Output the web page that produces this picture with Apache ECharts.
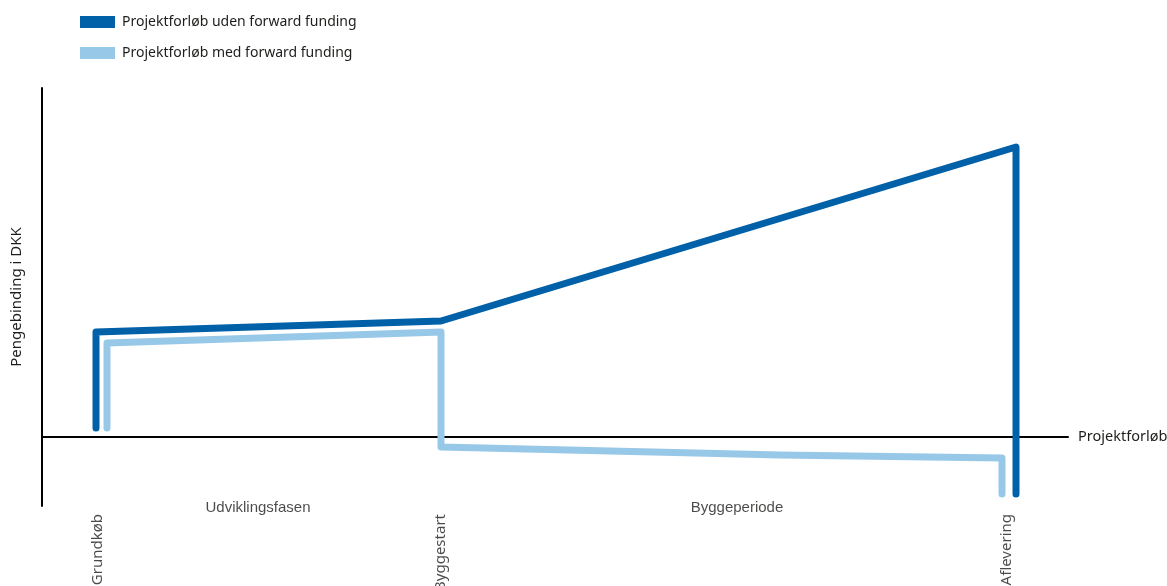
<!DOCTYPE html>
<html>
<head>
<meta charset="utf-8">
<script src="https://cdn.jsdelivr.net/npm/echarts@6/dist/echarts.min.js"></script>
<style>html,body{margin:0;padding:0;background:#fff}#c{width:1167px;height:586px}</style>
</head>
<body>
<div id="c"></div>
<script>
// Conceptual chart: x = project progress, y = capital tied up (arbitrary units, 0 = axis)
const seriesNames = ['Projektforløb uden forward funding', 'Projektforløb med forward funding'];
const udenX = [54, 54, 399, 974, 974];
const udenY = [9, 105, 116, 290, -57];
const medX = [65, 65, 399, 399, 738, 960, 960];
const medY = [9, 94, 105, -10, -18, -21, -57];
const milestones = ['Grundkøb', 'Byggestart', 'Aflevering'];
const milestoneX = [56, 399, 965];
const phases = ['Udviklingsfasen', 'Byggeperiode'];
const phaseX = [216, 695];
const xName = 'Projektforløb';
const yName = 'Pengebinding i DKK';

const FONT = 'Noto Sans';
const FONT2 = 'Liberation Sans';
const TXT = '#1d1d1b';
const DARK = '#0061a8';
const LIGHT = '#98c8e8';

const zip = (xs, ys) => xs.map((x, i) => [x, ys[i]]);

const chart = echarts.init(document.getElementById('c'), null, {renderer: 'canvas'});
chart.setOption({
  animation: false,
  textStyle: {fontFamily: FONT, color: TXT},
  grid: {left: 42, right: 99, top: 88, bottom: 80, outerBoundsMode: 'none', containLabel: false},
  legend: {
    orient: 'vertical', left: 80, top: 15, padding: 0, itemWidth: 35, itemHeight: 12, itemGap: 17,
    icon: 'rect',
    textStyle: {fontFamily: FONT, fontSize: 14, color: TXT, padding: [0, 0, 0, 2]},
    data: seriesNames
  },
  xAxis: {
    type: 'value', min: 0, max: 1026,
    axisLine: {show: true, onZero: true, lineStyle: {color: '#000', width: 2}},
    axisTick: {show: false}, axisLabel: {show: false}, splitLine: {show: false},
    name: xName, nameLocation: 'end', nameGap: 10,
    nameTextStyle: {fontFamily: FONT, fontSize: 14.5, color: TXT}
  },
  yAxis: {
    type: 'value', min: -69, max: 349,
    axisLine: {show: true, onZero: false, lineStyle: {color: '#000', width: 2}},
    axisTick: {show: false}, axisLabel: {show: false}, splitLine: {show: false},
    name: yName, nameLocation: 'middle', nameGap: 18, nameRotate: 90,
    nameTextStyle: {fontFamily: FONT, fontSize: 15, color: TXT}
  },
  series: [
    {
      name: seriesNames[0], type: 'line', data: zip(udenX, udenY), symbol: 'none',
      color: DARK, z: 3,
      lineStyle: {color: DARK, width: 7, cap: 'round', join: 'round'}
    },
    {
      name: seriesNames[1], type: 'line', data: zip(medX, medY), symbol: 'none',
      color: LIGHT, z: 2,
      lineStyle: {color: LIGHT, width: 7, cap: 'round', join: 'round'}
    },
    {
      type: 'scatter', symbolSize: 0, clip: false, silent: true,
      data: milestones.map((m, i) => ({value: [milestoneX[i], -77], name: m})),
      label: {
        show: true, position: 'inside', rotate: 90, align: 'right', verticalAlign: 'middle',
        formatter: p => p.name, fontFamily: FONT, fontSize: 15, color: TXT
      }
    },
    {
      type: 'scatter', symbolSize: 0, clip: false, silent: true,
      data: phases.map((m, i) => ({value: [phaseX[i], -71], name: m})),
      label: {
        show: true, position: 'inside', align: 'center', verticalAlign: 'middle',
        formatter: p => p.name, fontFamily: FONT2, fontSize: 15, color: TXT
      }
    }
  ]
});
</script>
</body>
</html>
